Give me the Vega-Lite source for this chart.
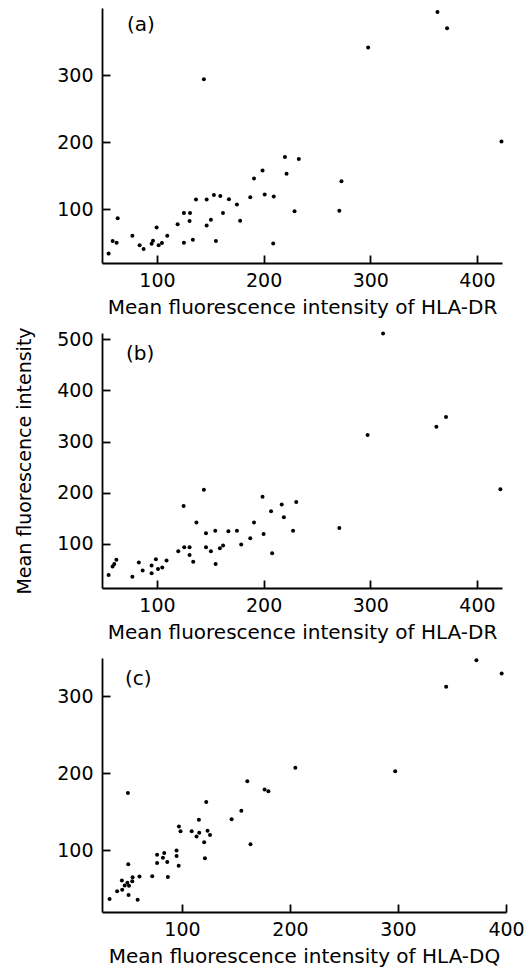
{
  "$schema": "https://vega.github.io/schema/vega-lite/v6.json",
  "background": "white",
  "padding": {"left": 15, "top": 8, "right": 5, "bottom": 5},
  "config": {
    "view": {"stroke": null},
    "font": "DejaVu Sans",
    "axis": {
      "grid": false,
      "domainColor": "#000",
      "domainWidth": 1.8,
      "tickColor": "#000",
      "tickWidth": 1.8,
      "tickSize": -8,
      "labelColor": "#000",
      "labelFont": "DejaVu Sans",
      "labelFontSize": 19,
      "labelFlush": false,
      "labelOverlap": false,
      "labelPadding": 16,
      "titleFont": "DejaVu Sans",
      "titleFontSize": 20,
      "titleFontWeight": "normal",
      "titleColor": "#000",
      "titlePadding": 7
    },
    "axisY": {"labelPadding": 17, "titlePadding": 22, "titleFontSize": 19},
    "title": {"font": "DejaVu Sans", "fontSize": 20, "fontWeight": "normal", "color": "#000", "anchor": "start", "frame": "group"}
  },
  "data": {"values": [
    {"panel": "a", "x": 54.7, "y": 34}, {"panel": "a", "x": 58.5, "y": 52.7}, {"panel": "a", "x": 62.2, "y": 50.3}, {"panel": "a", "x": 63.2, "y": 86.6},
    {"panel": "a", "x": 77, "y": 60.7}, {"panel": "a", "x": 83.8, "y": 46.3}, {"panel": "a", "x": 87.5, "y": 40.7}, {"panel": "a", "x": 95, "y": 48.8},
    {"panel": "a", "x": 96.3, "y": 53.3}, {"panel": "a", "x": 99.7, "y": 73}, {"panel": "a", "x": 101.6, "y": 46.3}, {"panel": "a", "x": 104.7, "y": 49.7},
    {"panel": "a", "x": 109.7, "y": 60.7}, {"panel": "a", "x": 119.4, "y": 77.6}, {"panel": "a", "x": 125.3, "y": 94.5}, {"panel": "a", "x": 125.3, "y": 50.3},
    {"panel": "a", "x": 131, "y": 94.5}, {"panel": "a", "x": 130.6, "y": 82.5}, {"panel": "a", "x": 133.7, "y": 54.8}, {"panel": "a", "x": 136.6, "y": 114.5},
    {"panel": "a", "x": 144, "y": 294}, {"panel": "a", "x": 146.6, "y": 114.5}, {"panel": "a", "x": 146.6, "y": 75.7}, {"panel": "a", "x": 150.6, "y": 84.6},
    {"panel": "a", "x": 153.4, "y": 121.4}, {"panel": "a", "x": 155.3, "y": 52.7}, {"panel": "a", "x": 159.4, "y": 119.9}, {"panel": "a", "x": 161.9, "y": 94.5},
    {"panel": "a", "x": 167.5, "y": 115}, {"panel": "a", "x": 175, "y": 107}, {"panel": "a", "x": 178, "y": 83}, {"panel": "a", "x": 187.5, "y": 118},
    {"panel": "a", "x": 191, "y": 146}, {"panel": "a", "x": 199, "y": 158}, {"panel": "a", "x": 201, "y": 122}, {"panel": "a", "x": 209.5, "y": 119},
    {"panel": "a", "x": 209, "y": 49}, {"panel": "a", "x": 220, "y": 178}, {"panel": "a", "x": 221.5, "y": 153}, {"panel": "a", "x": 229, "y": 97},
    {"panel": "a", "x": 233, "y": 175}, {"panel": "a", "x": 271, "y": 98}, {"panel": "a", "x": 273, "y": 142}, {"panel": "a", "x": 298, "y": 341},
    {"panel": "a", "x": 363, "y": 394}, {"panel": "a", "x": 372, "y": 370}, {"panel": "a", "x": 423, "y": 201},

    {"panel": "b", "x": 54.7, "y": 39.5}, {"panel": "b", "x": 58.4, "y": 56}, {"panel": "b", "x": 60, "y": 61}, {"panel": "b", "x": 62, "y": 69},
    {"panel": "b", "x": 77, "y": 36}, {"panel": "b", "x": 83, "y": 64}, {"panel": "b", "x": 86.6, "y": 48}, {"panel": "b", "x": 95, "y": 58},
    {"panel": "b", "x": 95, "y": 43}, {"panel": "b", "x": 99, "y": 70}, {"panel": "b", "x": 101, "y": 51}, {"panel": "b", "x": 105, "y": 54},
    {"panel": "b", "x": 109, "y": 67.5}, {"panel": "b", "x": 120, "y": 86}, {"panel": "b", "x": 125, "y": 174}, {"panel": "b", "x": 125.6, "y": 93.5},
    {"panel": "b", "x": 130.6, "y": 93.5}, {"panel": "b", "x": 130.6, "y": 78.5}, {"panel": "b", "x": 134, "y": 65.5}, {"panel": "b", "x": 137, "y": 142},
    {"panel": "b", "x": 144, "y": 206}, {"panel": "b", "x": 146, "y": 121}, {"panel": "b", "x": 146, "y": 93.5}, {"panel": "b", "x": 150.6, "y": 86},
    {"panel": "b", "x": 154.7, "y": 126}, {"panel": "b", "x": 155, "y": 61}, {"panel": "b", "x": 159, "y": 91.5}, {"panel": "b", "x": 162, "y": 97},
    {"panel": "b", "x": 167, "y": 125}, {"panel": "b", "x": 175, "y": 126}, {"panel": "b", "x": 179, "y": 99}, {"panel": "b", "x": 187.5, "y": 111},
    {"panel": "b", "x": 191, "y": 142}, {"panel": "b", "x": 199, "y": 192}, {"panel": "b", "x": 200, "y": 119.5}, {"panel": "b", "x": 207, "y": 164},
    {"panel": "b", "x": 208, "y": 82}, {"panel": "b", "x": 217, "y": 177}, {"panel": "b", "x": 219, "y": 152}, {"panel": "b", "x": 227.6, "y": 126},
    {"panel": "b", "x": 230.6, "y": 182}, {"panel": "b", "x": 271, "y": 131}, {"panel": "b", "x": 297.5, "y": 313}, {"panel": "b", "x": 312, "y": 511},
    {"panel": "b", "x": 362, "y": 329}, {"panel": "b", "x": 371, "y": 348}, {"panel": "b", "x": 422, "y": 207},

    {"panel": "c", "x": 33, "y": 37}, {"panel": "c", "x": 40, "y": 47}, {"panel": "c", "x": 44.4, "y": 61}, {"panel": "c", "x": 44.7, "y": 49},
    {"panel": "c", "x": 47, "y": 54.5}, {"panel": "c", "x": 49.5, "y": 58}, {"panel": "c", "x": 51, "y": 54}, {"panel": "c", "x": 54, "y": 60},
    {"panel": "c", "x": 54.3, "y": 65}, {"panel": "c", "x": 50.3, "y": 82}, {"panel": "c", "x": 50.6, "y": 42}, {"panel": "c", "x": 59, "y": 36},
    {"panel": "c", "x": 60.7, "y": 66}, {"panel": "c", "x": 50, "y": 174.5}, {"panel": "c", "x": 72.5, "y": 66.5}, {"panel": "c", "x": 77, "y": 94.4},
    {"panel": "c", "x": 77, "y": 83.6}, {"panel": "c", "x": 82.4, "y": 90.6}, {"panel": "c", "x": 83.6, "y": 96.6}, {"panel": "c", "x": 86.4, "y": 85},
    {"panel": "c", "x": 87, "y": 65.6}, {"panel": "c", "x": 95, "y": 100}, {"panel": "c", "x": 95, "y": 92.7}, {"panel": "c", "x": 97, "y": 80},
    {"panel": "c", "x": 97.2, "y": 131}, {"panel": "c", "x": 98.7, "y": 125}, {"panel": "c", "x": 109, "y": 125}, {"panel": "c", "x": 113.5, "y": 118},
    {"panel": "c", "x": 115.7, "y": 140}, {"panel": "c", "x": 116, "y": 123}, {"panel": "c", "x": 120.6, "y": 110.7}, {"panel": "c", "x": 121.3, "y": 89.7},
    {"panel": "c", "x": 122.5, "y": 163}, {"panel": "c", "x": 123.7, "y": 125.4}, {"panel": "c", "x": 126, "y": 120}, {"panel": "c", "x": 146, "y": 140.4},
    {"panel": "c", "x": 155, "y": 151.6}, {"panel": "c", "x": 160.5, "y": 190}, {"panel": "c", "x": 163.5, "y": 108}, {"panel": "c", "x": 176.5, "y": 179},
    {"panel": "c", "x": 180, "y": 177}, {"panel": "c", "x": 205, "y": 207.5}, {"panel": "c", "x": 297.4, "y": 202.8}, {"panel": "c", "x": 344.6, "y": 312.5},
    {"panel": "c", "x": 372.6, "y": 347}, {"panel": "c", "x": 396, "y": 329.7}
  ]},
  "spacing": 70,
  "bounds": "flush",
  "vconcat": [
    {
      "width": 400,
      "height": 255,
      "title": {"text": "(a)", "offset": -27, "dx": 25},
      "transform": [{"filter": "datum.panel === 'a'"}],
      "mark": {"type": "circle", "size": 16, "color": "#000", "opacity": 1},
      "encoding": {
        "x": {"field": "x", "type": "quantitative", "scale": {"domain": [48.5, 423.5], "nice": false, "zero": false},
              "axis": {"values": [100, 200, 300, 400], "title": "Mean fluorescence intensity of HLA-DR"}},
        "y": {"field": "y", "type": "quantitative", "scale": {"domain": [20, 400], "nice": false, "zero": false},
              "axis": {"values": [100, 200, 300], "title": null}}
      }
    },
    {
      "width": 400,
      "height": 255,
      "title": {"text": "(b)", "offset": -37, "dx": 24},
      "transform": [{"filter": "datum.panel === 'b'"}],
      "mark": {"type": "circle", "size": 16, "color": "#000", "opacity": 1},
      "encoding": {
        "x": {"field": "x", "type": "quantitative", "scale": {"domain": [48.5, 423.5], "nice": false, "zero": false},
              "axis": {"values": [100, 200, 300, 400], "title": "Mean fluorescence intensity of HLA-DR"}},
        "y": {"field": "y", "type": "quantitative", "scale": {"domain": [14, 512], "nice": false, "zero": false},
              "axis": {"values": [100, 200, 300, 400, 500], "title": "Mean fluorescence intensity"}}
      }
    },
    {
      "width": 404,
      "height": 254,
      "title": {"text": "(c)", "offset": -31, "dx": 23},
      "transform": [{"filter": "datum.panel === 'c'"}],
      "mark": {"type": "circle", "size": 16, "color": "#000", "opacity": 1},
      "encoding": {
        "x": {"field": "x", "type": "quantitative", "scale": {"domain": [26, 400], "nice": false, "zero": false},
              "axis": {"values": [100, 200, 300, 400], "title": "Mean fluorescence intensity of HLA-DQ"}},
        "y": {"field": "y", "type": "quantitative", "scale": {"domain": [20, 350], "nice": false, "zero": false},
              "axis": {"values": [100, 200, 300], "title": null}}
      }
    }
  ]
}
